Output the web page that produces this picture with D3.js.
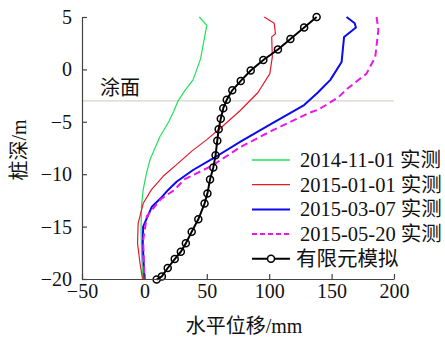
<!DOCTYPE html>
<html>
<head>
<meta charset="utf-8">
<script src="https://cdn.jsdelivr.net/npm/d3@7"></script>
<style>
    body { margin: 0; background: #fff; }
    svg text { font-family: "Liberation Serif", "Times New Roman", "DejaVu Serif", "Noto Sans CJK SC", serif; fill: #111; }
</style>
</head>
<body>
<script>
// [depth (m), displacement (mm)]
var series1101 = [[5, 44], [4.2, 50], [1, 45], [-1, 39], [-2, 32.5], [-3, 27], [-4, 23.5], [-5, 19.5],
    [-6.4, 12.5], [-8.6, 4.5], [-10, 1.5], [-11.5, -1], [-13, -2.3], [-15.3, -2.7], [-17.5, -2.3], [-19.6, -1.4], [-20, -1]];
var series0101 = [[5, 96], [4.4, 104], [3.4, 105], [3.1, 102], [1.2, 102.5], [-0.4, 100.5], [-2.2, 91], [-3.9, 77],
    [-5.5, 62], [-6.7, 50], [-7.8, 38], [-8.8, 28.5], [-10.2, 15], [-11.5, 5.5], [-12.8, -1], [-14.7, -5],
    [-16.6, -5.5], [-18.5, -3.5], [-20, -1.5]];
var series0307 = [[5, 162], [4.4, 168.5], [4, 169.5], [3.1, 160], [0.7, 158], [-1, 149], [-2.2, 139], [-3.4, 128],
    [-5.1, 103], [-6.9, 77], [-8.5, 55], [-9.6, 39], [-10.7, 26], [-11.5, 19], [-12.3, 13], [-13.1, 6],
    [-15, -1], [-16.6, -1.3], [-20, 0]];
var series0520 = [[5, 186], [3.8, 187.5], [1.2, 185], [-0.4, 178], [-1.8, 163], [-2.7, 155], [-3.8, 140], [-4.2, 131],
    [-5.8, 103], [-7.4, 77], [-9.2, 54], [-10.5, 32], [-11.5, 24], [-12.4, 13], [-14, 2], [-16.3, -1], [-20, 0]];
var seriesFem = [[5, 138], [4, 128], [2.9, 117], [1.9, 107], [0.9, 95.3], [-0.1, 85.2], [-1.1, 77.2], [-2, 70.4],
    [-2.9, 66], [-3.7, 63.2], [-4.7, 61.2], [-5.7, 59.5], [-6.8, 58.4], [-8.2, 57], [-9.35, 55.2], [-10.5, 52.6],
    [-11.85, 50.5], [-12.8, 48.2], [-14.3, 43.2], [-15.5, 37.9], [-16.6, 33.2], [-17.4, 29.2], [-18.1, 24.3],
    [-18.95, 18.7], [-19.75, 14], [-20.05, 9.8]];

var legendLabels = ["2014-11-01 实测", "2015-01-01 实测", "2015-03-07 实测", "2015-05-20 实测", "有限元模拟"];
var xTicks = [-50, 0, 50, 100, 150, 200];
var yTicks = [5, 0, -5, -10, -15, -20];
var surfaceDepth = -3;
var surfaceLabel = "涂面";
var xTitle = "水平位移/mm";
var yTitle = "桩深/m";

var width = 445, height = 337;
var margin = {left: 82, right: 51, top: 17, bottom: 58};

var xScale = d3.scaleLinear()
    .domain([-50, 200])
    .range([margin.left, width - margin.right]);

var yScale = d3.scaleLinear()
    .domain([5, -20])
    .range([margin.top, height - margin.bottom]);

var svg = d3.select("body").append("svg")
    .attr("width", width)
    .attr("height", height);

// surface line
svg.append("line")
    .attr("x1", xScale(-50))
    .attr("x2", xScale(200))
    .attr("y1", yScale(surfaceDepth))
    .attr("y2", yScale(surfaceDepth))
    .attr("stroke", "#d8d4cc")
    .attr("stroke-width", 1.2);

svg.append("text")
    .attr("x", 100)
    .attr("y", yScale(surfaceDepth) - 6)
    .style("font-size", "20px")
    .text(surfaceLabel);

var styles = [
    {data: series1101, color: "#1fe35a", width: 1.2, dash: null},
    {data: series0101, color: "#e8182b", width: 1.2, dash: null},
    {data: series0307, color: "#0a0aee", width: 2, dash: null},
    {data: series0520, color: "#ec16ec", width: 2, dash: "7,4"},
    {data: seriesFem, color: "#000", width: 2, dash: null}
];

var line = d3.line()
    .x(function (d) { return xScale(d[1]); })
    .y(function (d) { return yScale(d[0]); });

styles.forEach(function (s) {
    svg.append("path")
        .datum(s.data)
        .attr("fill", "none")
        .attr("stroke", s.color)
        .attr("stroke-width", s.width)
        .attr("stroke-dasharray", s.dash)
        .attr("stroke-linejoin", "round")
        .attr("d", line);
});

svg.selectAll("circle.fem")
    .data(seriesFem)
    .enter().append("circle")
    .attr("class", "fem")
    .attr("cx", function (d) { return xScale(d[1]); })
    .attr("cy", function (d) { return yScale(d[0]); })
    .attr("r", 3.5)
    .attr("fill", "none")
    .attr("stroke", "#000")
    .attr("stroke-width", 1.5);

// axes
var xAxis = d3.axisBottom(xScale).tickValues(xTicks).tickSizeInner(-5).tickSizeOuter(0).tickPadding(5);
var yAxis = d3.axisLeft(yScale).tickValues(yTicks).tickSizeInner(-5).tickSizeOuter(0).tickPadding(10);

var gx = svg.append("g")
    .attr("transform", "translate(0," + yScale(-20) + ")")
    .call(xAxis);
var gy = svg.append("g")
    .attr("transform", "translate(" + xScale(-50) + ",0)")
    .call(yAxis);

[gx, gy].forEach(function (g) {
    g.attr("font-family", null);
    g.selectAll("path, line").attr("stroke", "#444").attr("stroke-width", 1.2);
    g.selectAll("text")
        .style("font-size", "20px")
        .attr("fill", "#111");
});

svg.append("text")
    .attr("x", 244)
    .attr("y", 333)
    .attr("text-anchor", "middle")
    .style("font-size", "20px")
    .text(xTitle);

svg.append("text")
    .attr("transform", "translate(26,150)rotate(-90)")
    .attr("text-anchor", "middle")
    .style("font-size", "20px")
    .text(yTitle);

// legend
var legend = svg.append("g").attr("transform", "translate(252,160)");
styles.forEach(function (s, i) {
    var row = legend.append("g").attr("transform", "translate(0," + (i * 24.7) + ")");
    row.append("line")
        .attr("x1", 0).attr("x2", 38)
        .attr("stroke", s.color)
        .attr("stroke-width", s.width === 2 ? 2 : 1.3)
        .attr("stroke-dasharray", s.dash === null ? null : "5,3");
    if (i === 4) {
        row.append("circle")
            .attr("cx", 19).attr("r", 3.5)
            .attr("fill", "#fff").attr("stroke", "#000").attr("stroke-width", 1.5);
    }
    row.append("text")
        .attr("x", i === 4 ? 44 : 48)
        .attr("y", 7)
        .style("font-size", "20.5px")
        .text(legendLabels[i]);
});
</script>
</body>
</html>
